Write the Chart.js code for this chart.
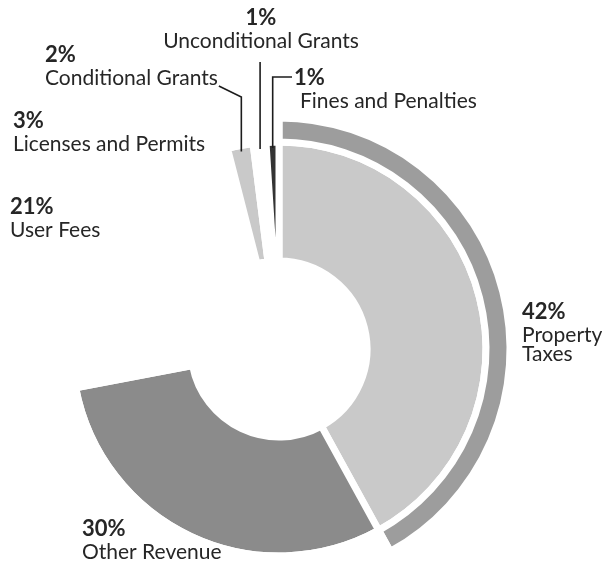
<!DOCTYPE html>
<html>
<head>
<meta charset="utf-8">
<script src="https://cdn.jsdelivr.net/npm/chart.js@4.4.1/dist/chart.umd.min.js"></script>
<style>
  html, body { margin: 0; padding: 0; background: #fff; }
  #chartBox { position: relative; width: 602px; height: 563px; }
</style>
</head>
<body>
<div id="chartBox"><canvas id="revenueChart"></canvas></div>
<script>
// Revenue sources, clockwise from 12 o'clock
const categories = ['Property Taxes', 'Other Revenue', 'User Fees', 'Licenses and Permits',
                    'Conditional Grants', 'Unconditional Grants', 'Fines and Penalties'];
const shares = [42, 30, 21, 3, 2, 1, 1];

const sliceColors = ['#c9c9c9', '#8b8b8b', '#ffffff', '#ffffff', '#c9c9c9', '#ffffff', '#333333'];
// outer band only shows behind the largest source
const bandColors = ['#9d9d9d', 'rgba(0,0,0,0)', 'rgba(0,0,0,0)', 'rgba(0,0,0,0)',
                    'rgba(0,0,0,0)', 'rgba(0,0,0,0)', 'rgba(0,0,0,0)'];

// how each name is broken over lines
const nameLines = [['Property', 'Taxes'], ['Other Revenue'], ['User Fees'], ['Licenses and Permits'],
                   ['Conditional Grants'], ['Unconditional Grants'], ['Fines and Penalties']];

// label spots (x, baseline of the percent) and callout style
const labelSpots = [
    { x: 522, y: 319, align: 'left' },
    { x: 82,  y: 536, align: 'left' },
    { x: 10,  y: 214, align: 'left' },
    { x: 13,  y: 128, align: 'left' },
    { x: 45,  y: 62,  align: 'left', leader: 'elbow', bend: 97 },
    { x: 261, y: 25,  align: 'center', leader: 'drop', bend: 62 },
    { x: 300, y: 85,  align: 'left', pctDx: -6, leader: 'hook', bend: 77 }
];

const FONT = 'Lato, "Noto Sans", sans-serif';

const sliceLabels = {
    id: 'sliceLabels',
    afterDatasetsDraw(chart) {
        const ctx = chart.ctx;
        const arcs = chart.getDatasetMeta(1).data;
        ctx.save();
        ctx.fillStyle = '#262626';
        ctx.strokeStyle = '#1c1c1c';
        ctx.lineWidth = 1.6;
        ctx.textBaseline = 'alphabetic';

        labelSpots.forEach((spot, i) => {
            ctx.textAlign = spot.align;
            ctx.font = 'bold 22px ' + FONT;
            ctx.fillText(shares[i] + '%', spot.x + (spot.pctDx || 0), spot.y);
            ctx.font = '21px ' + FONT;
            nameLines[i].forEach((line, k) => {
                ctx.fillText(line, spot.x, spot.y + 23 + k * 19);
            });

            if (!spot.leader) return;

            // point on the slice where the callout ends
            const arc = arcs[i].getProps(['x', 'y', 'startAngle', 'endAngle', 'outerRadius'], true);
            const mid = (arc.startAngle + arc.endAngle) / 2;
            const r = arc.outerRadius - 6;
            const ax = arc.x + Math.cos(mid) * r;
            const ay = arc.y + Math.sin(mid) * r;

            ctx.beginPath();
            if (spot.leader === 'elbow') {
                const w = ctx.measureText(nameLines[i][0]).width;
                ctx.moveTo(spot.x + w + 1, spot.y + 24);
                ctx.lineTo(ax, spot.bend);
            } else if (spot.leader === 'drop') {
                ctx.moveTo(ax, spot.bend);
            } else {
                ctx.moveTo(spot.x + (spot.pctDx || 0) - 2, spot.bend);
                ctx.lineTo(ax, spot.bend);
            }
            ctx.lineTo(ax, ay);
            ctx.stroke();
        });
        ctx.restore();
    }
};

new Chart(document.getElementById('revenueChart'), {
    type: 'doughnut',
    data: {
        labels: categories,
        datasets: [
            {
                data: shares,
                backgroundColor: bandColors,
                borderColor: '#ffffff',
                borderWidth: 7,
                weight: 24
            },
            {
                data: shares,
                backgroundColor: sliceColors,
                borderColor: '#ffffff',
                borderWidth: 7,
                weight: 119
            }
        ]
    },
    options: {
        responsive: true,
        maintainAspectRatio: false,
        animation: false,
        radius: 231,
        cutout: '38.1%',
        rotation: 0,
        clip: false,
        layout: { padding: { left: 0, right: 44, top: 135, bottom: 0 } },
        plugins: {
            legend: { display: false },
            tooltip: { enabled: false }
        }
    },
    plugins: [sliceLabels]
});
</script>
</body>
</html>
